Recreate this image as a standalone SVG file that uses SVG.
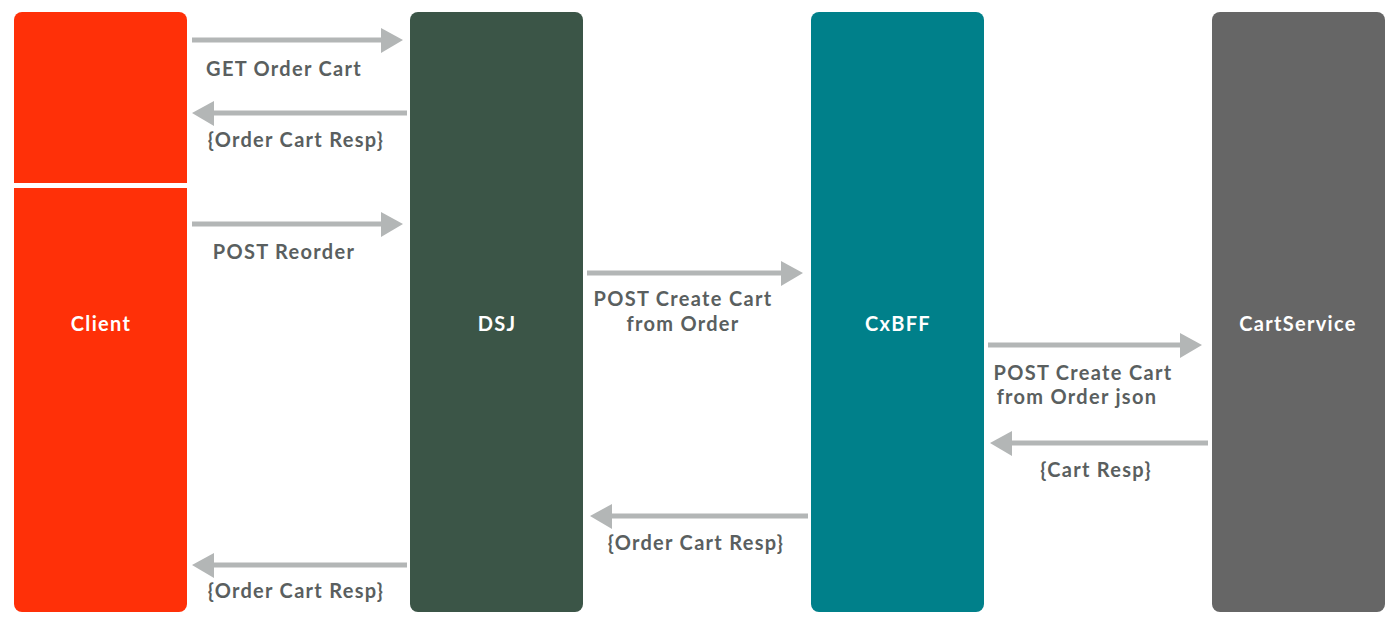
<svg xmlns="http://www.w3.org/2000/svg" width="1400" height="630" viewBox="0 0 1400 630">
<style>
.lbl{font-family:Lato,"Open Sans","DejaVu Sans",sans-serif;font-weight:700;font-size:20px;letter-spacing:1.3px;fill:#5a5f5f;text-anchor:middle}
.nlbl{font-family:Lato,"Open Sans","DejaVu Sans",sans-serif;font-weight:700;font-size:20px;letter-spacing:1.3px;fill:#ffffff;text-anchor:middle}
.ln{stroke:#b3b6b6;stroke-width:5;fill:none}
.hd{fill:#b3b6b6}
</style>
<rect width="1400" height="630" fill="#ffffff"/>
<g id="client">
<path d="M14,183 V20 a8,8 0 0 1 8,-8 H179 a8,8 0 0 1 8,8 V183 Z" fill="#ff3008"/>
<path d="M14,188 H187 V604 a8,8 0 0 1 -8,8 H22 a8,8 0 0 1 -8,-8 Z" fill="#ff3008"/>
<text class="nlbl" x="101" y="331">Client</text>
</g>
<g id="dsj">
<rect x="410" y="12" width="173" height="600" rx="8" fill="#3b5547"/>
<text class="nlbl" x="497" y="331">DSJ</text>
</g>
<g id="cxbff">
<rect x="811" y="12" width="173" height="600" rx="8" fill="#00808a"/>
<text class="nlbl" x="898" y="331">CxBFF</text>
</g>
<g id="cartservice">
<rect x="1212" y="12" width="173" height="600" rx="8" fill="#666666"/>
<text class="nlbl" x="1298" y="331">CartService</text>
</g>
<g id="connectors">
<line class="ln" x1="192" y1="40" x2="383" y2="40"/><polygon class="hd" points="381,28 403,40 381,53"/>
<line class="ln" x1="407" y1="113" x2="212" y2="113"/><polygon class="hd" points="214,101 192,113 214,126"/>
<line class="ln" x1="192" y1="224" x2="383" y2="224"/><polygon class="hd" points="381,212 403,224 381,237"/>
<line class="ln" x1="587" y1="273" x2="783" y2="273"/><polygon class="hd" points="781,261 803,273 781,286"/>
<line class="ln" x1="988" y1="345" x2="1182" y2="345"/><polygon class="hd" points="1180,333 1202,345 1180,358"/>
<line class="ln" x1="1208" y1="443" x2="1010" y2="443"/><polygon class="hd" points="1012,431 990,443 1012,456"/>
<line class="ln" x1="808" y1="516" x2="610" y2="516"/><polygon class="hd" points="612,504 590,516 612,529"/>
<line class="ln" x1="407" y1="565" x2="212" y2="565"/><polygon class="hd" points="214,553 192,565 214,578"/>
</g>
<g id="labels">
<text class="lbl" x="284" y="76">GET Order Cart</text>
<text class="lbl" x="296" y="147">{Order Cart Resp}</text>
<text class="lbl" x="284" y="259">POST Reorder</text>
<text class="lbl" x="683" y="306">POST Create Cart</text>
<text class="lbl" x="683" y="331">from Order</text>
<text class="lbl" x="1083" y="380">POST Create Cart</text>
<text class="lbl" x="1077" y="404">from Order json</text>
<text class="lbl" x="1096" y="477">{Cart Resp}</text>
<text class="lbl" x="696" y="550">{Order Cart Resp}</text>
<text class="lbl" x="296" y="598">{Order Cart Resp}</text>
</g>
</svg>
